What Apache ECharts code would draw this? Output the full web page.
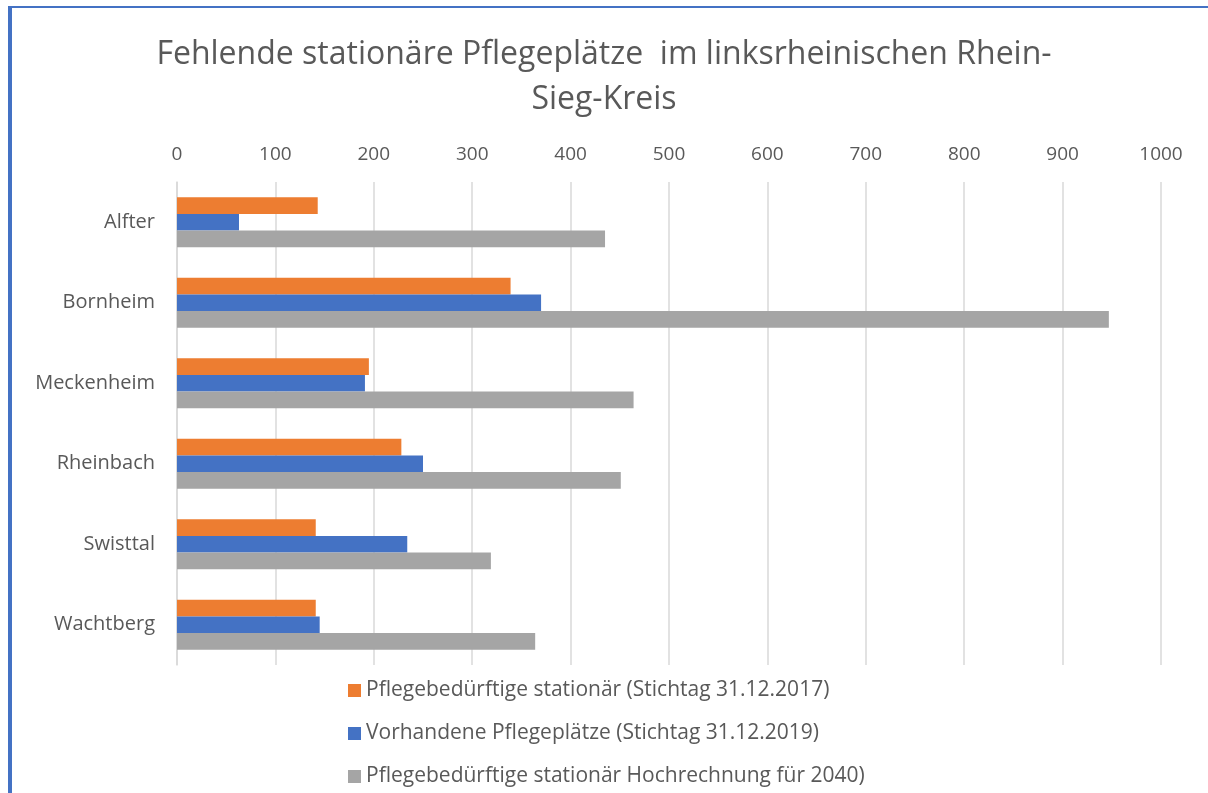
<!DOCTYPE html>
<html>
<head>
<meta charset="utf-8">
<title>Fehlende stationäre Pflegeplätze</title>
<script src="https://cdn.jsdelivr.net/npm/echarts@6/dist/echarts.min.js"></script>
<style>
    html, body { margin: 0; padding: 0; background: #fff; }
    .frame {
        position: absolute;
        left: 8px;
        top: 6px;
        width: 1200px;
        height: 787px;
        border-left: 4px solid #4472c4;
        border-top: 2px solid #4472c4;
    }
    #chart { position: absolute; left: 0; top: 0; width: 1208px; height: 793px; }
</style>
</head>
<body>
<div class="frame"></div>
<div id="chart"></div>
<script>
    // Daten
    const orte = ['Alfter', 'Bornheim', 'Meckenheim', 'Rheinbach', 'Swisttal', 'Wachtberg'];
    const stationaer2017 = [143, 339, 195, 228, 141, 141];
    const plaetze2019 = [63, 370, 191, 250, 234, 145];
    const hochrechnung2040 = [435, 947, 464, 451, 319, 364];
    const serienNamen = [
        'Pflegebedürftige stationär (Stichtag 31.12.2017)',
        'Vorhandene Pflegeplätze (Stichtag 31.12.2019)',
        'Pflegebedürftige stationär Hochrechnung für 2040)'
    ];

    const font = '"Open Sans", "Noto Sans", sans-serif';
    const grau = '#595959';

    let myChart = echarts.init(document.getElementById('chart'));

    let option = {
        animation: false,
        textStyle: { fontFamily: font },
        title: {
            text: 'Fehlende stationäre Pflegeplätze  im linksrheinischen Rhein-\nSieg-Kreis',
            left: 'center',
            top: 27,
            textStyle: {
                fontFamily: font,
                fontSize: 32,
                fontWeight: 'normal',
                color: grau,
                lineHeight: 45
            }
        },
        legend: {
            orient: 'vertical',
            left: 348,
            top: 680,
            padding: 0,
            itemWidth: 13,
            itemHeight: 13,
            itemGap: 22,
            icon: 'rect',
            textStyle: { fontFamily: font, fontSize: 21, color: grau },
            data: serienNamen
        },
        grid: {
            left: 177,
            right: 47,
            top: 182,
            bottom: 128,
            containLabel: false
        },
        xAxis: {
            type: 'value',
            position: 'top',
            min: 0,
            max: 1000,
            interval: 100,
            axisLine: { show: false },
            axisTick: { show: false },
            axisLabel: {
                fontFamily: font, fontSize: 19, color: grau, margin: 18,
                formatter: function (v) { return String(v); }
            },
            splitLine: { lineStyle: { color: '#d9d9d9', width: 1.5 } }
        },
        yAxis: {
            type: 'category',
            inverse: true,
            data: orte,
            axisLine: { lineStyle: { color: '#d9d9d9', width: 1.5 } },
            axisTick: { show: false },
            axisLabel: { fontFamily: font, fontSize: 20, color: grau, margin: 22 }
        },
        series: [
            {
                name: serienNamen[0],
                type: 'bar',
                data: stationaer2017,
                itemStyle: { color: '#ed7d31' },
                barGap: '0%',
                barCategoryGap: '38%'
            },
            {
                name: serienNamen[1],
                type: 'bar',
                data: plaetze2019,
                itemStyle: { color: '#4472c4' }
            },
            {
                name: serienNamen[2],
                type: 'bar',
                data: hochrechnung2040,
                itemStyle: { color: '#a5a5a5' }
            }
        ]
    };

    myChart.setOption(option);
</script>
</body>
</html>
